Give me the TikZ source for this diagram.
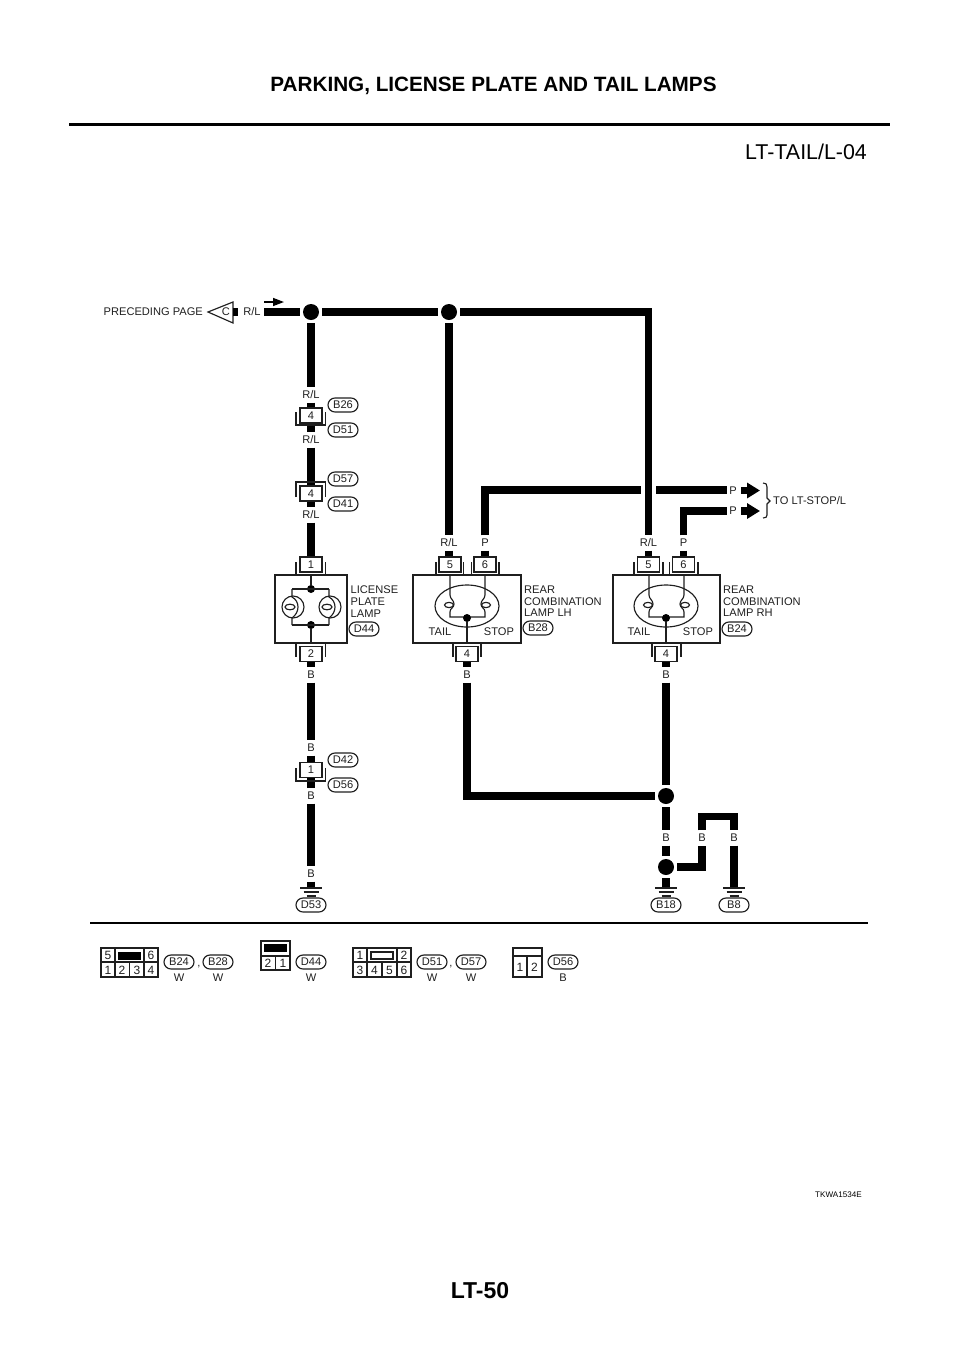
\documentclass[tikz,border=0pt]{standalone}
\usepackage{fontspec}
\setmainfont{Liberation Sans}
\usetikzlibrary{arrows.meta,shapes.misc,calc}
\definecolor{ink}{gray}{0.12}
\newcommand{\lblfont}{\fontsize{11.1}{11.5}\selectfont}
\tikzset{
  x=1pt,y=-1pt,
  wire/.style={line width=7.1pt,line cap=butt,line join=miter,black},
  thin line/.style={line width=1.15pt,ink},
  hair/.style={line width=1.1pt,ink},
  wl/.style={font=\lblfont,text=ink,inner sep=0pt,minimum height=15pt,minimum width=12pt,text height=7.8pt,text depth=0pt},
  pin/.style={draw=ink,line width=1.4pt,fill=white,minimum width=22pt,minimum height=15pt,inner sep=0pt,font=\lblfont,text=ink,text height=7.8pt,text depth=0pt},
  pill/.style={rounded rectangle,draw=ink,line width=1.15pt,fill=white,minimum width=30pt,minimum height=14pt,inner sep=0pt,font=\lblfont,text=ink,text height=7.8pt,text depth=0pt},
  junction/.style={circle,fill=black,minimum size=16pt,inner sep=0pt,outer sep=3pt},
  smalldot/.style={circle,fill=black,minimum size=8pt,inner sep=0pt},
  plain/.style={font=\lblfont,text=ink,inner sep=0pt,text height=7.8pt,text depth=0pt},
  multi/.style={font=\lblfont,text=ink,inner sep=0pt,align=left,anchor=north west},
  lampbox/.style={draw=ink,line width=1.25pt,inner sep=0pt},
  cellnum/.style={font=\fontsize{12}{13}\selectfont,text=ink,inner sep=0pt,text height=8.5pt,text depth=0pt},
}
% bracket open on top / open at bottom, left x, right x, y1 (arms), y2 (closed side)
\newcommand{\brk}[4]{\draw[hair] (#1,#3) -- (#1,#4) -- (#2,#4) -- (#2,#3);}
\newcommand{\arms}[4]{\draw[hair] (#1,#3) -- (#1,#4) (#2,#3) -- (#2,#4);}
\newcommand{\rearlamp}[2]{%
  \begin{scope}[shift={(#1,0)}]
    \draw[thin line] (467,606) ellipse [x radius=32,y radius=21];
    \draw[thin line] (450,575) -- (450,595) .. controls (450,599) and (454,600) .. (454,604)
      .. controls (454,608) and (450,608) .. (450,612) -- (450,617) -- (485,617) -- (485,612)
      .. controls (485,608) and (481,608) .. (481,604) .. controls (481,600) and (485,599) .. (485,595) -- (485,575);
    \draw[thin line] (449,605) ellipse [x radius=4.5,y radius=2.6];
    \draw[thin line] (486,605) ellipse [x radius=4.5,y radius=2.6];
    \node[smalldot] (#2dot) at (467,618) {};
    \draw[thin line] (#2dot) -- (467,643);
    \node[plain] (#2tail) at (440,632) {TAIL};
    \node[plain] (#2stop) at (499,632) {STOP};
  \end{scope}}
\newcommand{\platebulb}[1]{%
  \begin{scope}[shift={(#1,0)}]
    \draw[thin line] (293,607) circle [radius=11];
    \draw[thin line] (292,589) -- (292,597) .. controls (296,599) and (298,603) .. (298,607)
      .. controls (298,611) and (296,615) .. (292,618) -- (292,625);
    \draw[thin line] (290,607) ellipse [x radius=5,y radius=2.8];
  \end{scope}}
\begin{document}
\begin{tikzpicture}
\useasboundingbox (0,0) rectangle (960,1358);
% header
\node[inner sep=0pt,font=\bfseries\fontsize{20.7}{22}\selectfont,text=black] (title) at (493.5,86) {PARKING, LICENSE PLATE AND TAIL LAMPS};
\draw[line width=3pt,black] (69,124) -- (890,124);
\node[inner sep=0pt,font=\fontsize{21.4}{23}\selectfont,text=black] (ref) at (806,152) {LT-TAIL/L-04};
\node[inner sep=0pt,font=\bfseries\fontsize{23}{25}\selectfont,text=black] (page) at (480,1291) {LT-50};
\node[inner sep=0pt,font=\fontsize{8.1}{9}\selectfont,text=black] (code) at (838.5,1195) {TKWA1534E};
\draw[line width=1.5pt,black] (90,923) -- (868,923);

% junctions
\node[junction] (j1) at (311,312) {};
\node[junction] (j2) at (449,312) {};
\node[junction] (j3) at (666,796) {};
\node[junction] (j4) at (666,867) {};

% preceding page
\node[plain,anchor=east] (prec) at (203,312) {PRECEDING PAGE};
\coordinate (trit) at (208,312);
\draw[thin line,fill=white] (trit) -- (233,302) -- (233,323) -- cycle;
\node[plain] (cc) at (226,312) {C};
\coordinate (tris) at (233,312);
\node[wl] (rl0) at (252,312) {R/L};
\coordinate (stubB) at (238,312);
\draw[wire] (tris) -- (stubB);
\coordinate (rl0e) at (264,312);
\draw[wire] (rl0e) -- (j1);
\draw[wire] (j1) -- (j2);
\coordinate (flowa) at (264,302);
\coordinate (flowb) at (284,302);
\draw[line width=1.4pt,-{Triangle[length=11pt,width=8pt]},black] (flowa) -- (flowb);

% left column
\node[wl] (l1) at (311,395) {R/L};
\node[pin] (c4a) at (311,415.5) {4};
\node[wl] (l2) at (311,440) {R/L};
\node[pin] (c4b) at (311,493.5) {4};
\node[wl] (l3) at (311,515) {R/L};
\node[pin] (c1) at (311,564.5) {1};
\node[pin] (c2) at (311,654) {2};
\node[wl] (l4) at (311,675) {B};
\node[wl] (l5) at (311,748) {B};
\node[pin] (c1b) at (311,770) {1};
\node[wl] (l6) at (311,796) {B};
\node[wl] (l7) at (311,874) {B};
\coordinate (g1) at (311,888);
\draw[wire] (j1) -- (l1);
\draw[wire] (l1) -- (c4a);
\draw[wire] (c4a) -- (l2);
\draw[wire] (l2) -- (c4b);
\draw[wire] (c4b) -- (l3);
\draw[wire] (l3) -- (c1);
\draw[wire] (c2) -- (l4);
\draw[wire] (l4) -- (l5);
\draw[wire] (l5) -- (c1b);
\draw[wire] (c1b) -- (l6);
\draw[wire] (l6) -- (l7);
\draw[wire] (l7) -- (g1);
\brk{296}{325.5}{412}{425}
\draw[hair] (296,497) -- (296,482) -- (325.5,482) -- (325.5,497);
\brk{296}{325.5}{768}{781}
\arms{296}{325.5}{562}{575}
\arms{296}{325.5}{643}{657}

% licence plate lamp
\node[lampbox,minimum width=72pt,minimum height=68pt] (lp) at (311,609) {};
\node[smalldot] (lpt) at (311,589) {};
\node[smalldot] (lpb) at (311,625) {};
\draw[thin line] (lp.north) -- (lpt);
\draw[thin line] (lpb) -- (lp.south);
\draw[thin line] (292,589) -- (329,589);
\draw[thin line] (292,625) -- (329,625);
\platebulb{0}
\platebulb{37}
\node[multi] (lptxt) at (350.5,585.5) {LICENSE\\[0.3pt]PLATE\\[0.3pt]LAMP};
\node[pill] (pD44) at (364,629) {D44};

% rear lamp LH
\node[wl] (rl5) at (449,543) {R/L};
\node[wl] (p6) at (485,543) {P};
\node[pin] (c5l) at (450,564.5) {5};
\node[pin] (c6l) at (485,564.5) {6};
\node[pin] (c4l) at (467,654) {4};
\node[wl] (bl) at (467,675) {B};
\node[lampbox,minimum width=108pt,minimum height=68pt] (ll) at (467,609) {};
\rearlamp{0}{lh}
\arms{436}{463.5}{562}{575}
\arms{471.5}{499}{562}{575}
\arms{453}{481}{643}{657}
\node[multi] (lltxt) at (524,585.5) {REAR\\[0.3pt]COMBINATION\\[0.3pt]LAMP LH};
\node[pill] (pB28) at (538,628) {B28};

% rear lamp RH
\node[wl] (rr5) at (648.5,543) {R/L};
\node[wl] (p6r) at (683.5,543) {P};
\node[pin] (c5r) at (648.5,564.5) {5};
\node[pin] (c6r) at (683.5,564.5) {6};
\node[pin] (c4r) at (666,654) {4};
\node[wl] (br) at (666,675) {B};
\node[lampbox,minimum width=107pt,minimum height=68pt] (lr) at (666.5,609) {};
\rearlamp{199}{rh}
\arms{634}{663}{562}{575}
\arms{669.5}{698}{562}{575}
\arms{652}{681}{643}{657}
\node[multi] (lrtxt) at (723,585.5) {REAR\\[0.3pt]COMBINATION\\[0.3pt]LAMP RH};
\node[pill] (pB24) at (737,629) {B24};

% wires of the rear lamps
\draw[wire] (j2) -- (rl5);
\draw[wire] (rl5) -- (c5l.north -| rl5);
\draw[wire] (j2) -| (rr5);
\draw[wire] (rr5) -- (c5r);
\node[wl] (pa) at (733,490.5) {P};
\node[wl] (pb) at (733,511) {P};
\coordinate (gapl) at (641,490);
\coordinate (gapr) at (656,490);
\draw[wire] (p6) |- (gapl);
\draw[wire] (gapr) -- (727,490);
\draw[wire] (p6) -- (c6l);
\draw[wire] (p6r) |- (727,511);
\draw[wire] (p6r) -- (c6r);
\coordinate (aa) at (741,490.5);
\coordinate (ab) at (760,490.5);
\coordinate (ba) at (741,511);
\coordinate (bb) at (760,511);
\draw[wire,-{Triangle[length=13pt,width=15pt]}] (aa) -- (ab);
\draw[wire,-{Triangle[length=13pt,width=15pt]}] (ba) -- (bb);
\draw[hair] (763,483) .. controls (766,483) and (767,484) .. (767,487) -- (767,498) -- (770,501) -- (767,504) -- (767,515) .. controls (767,517) and (766,518) .. (763,518);
\node[plain,anchor=west] (tostop) at (773,501) {TO LT-STOP/L};

\draw[wire] (c4l) -- (bl);
\draw[wire] (bl) |- (j3);
\draw[wire] (c4r) -- (br);
\draw[wire] (br) -- (j3);

% bottom right grounds
\node[wl] (bx1) at (666,838) {B};
\node[wl] (bx2) at (702,838) {B};
\node[wl] (bx3) at (734,838) {B};
\coordinate (g2) at (666,888);
\coordinate (g3) at (734,888);
\draw[wire] (j3) -- (bx1);
\draw[wire] (bx1) -- (j4);
\draw[wire] (j4) -| (bx2);
\draw[wire] (bx2.north) |- (716,816.5) -| (bx3.north);
\draw[wire] (bx3) -- (g3);
\draw[wire] (j4) -- (g2);
\foreach \gx/\gn in {311/g1,666/g2,734/g3}{
  \draw[line width=1.2pt,ink] (\gx-11,888) -- (\gx+11,888);
  \draw[line width=1.2pt,ink] (\gx-7.5,892) -- (\gx+7.5,892);
  \draw[line width=1.2pt,ink] (\gx-4.5,896) -- (\gx+4.5,896);
}
\node[pill] (pD53) at (311,905) {D53};
\node[pill] (pB18) at (666,905) {B18};
\node[pill] (pB8) at (734,905) {B8};

% connector tags
\node[pill] (pB26) at (343,405) {B26};
\node[pill] (pD51) at (343,430) {D51};
\node[pill] (pD57) at (343,479) {D57};
\node[pill] (pD41) at (343,504) {D41};
\node[pill] (pD42) at (343,760) {D42};
\node[pill] (pD56) at (343,785) {D56};

% connector faces
\draw[thin line] (101,948) rectangle (158,977);
\draw[thin line] (101,962) -- (158,962) (115,948) -- (115,977) (144,948) -- (144,977) (129.5,962) -- (129.5,977);
\fill[black] (118,952) rectangle (141,960);
\foreach \t/\tx/\ty/\nn in {5/108/955/a,6/151/955/b,1/108/970/c,2/122/970/d,3/137/970/e,4/151/970/f}
  \node[cellnum] (fa\nn) at (\tx,\ty) {\t};
\node[pill] (fB24) at (179,962) {B24};
\node[plain] (cm1) at (199,963) {,};
\node[pill] (fB28) at (218,962) {B28};
\node[plain] (w1) at (179,978) {W};
\node[plain] (w2) at (218,978) {W};

\draw[thin line] (261,941) rectangle (290,970);
\draw[thin line] (261,956) -- (290,956) (275.5,956) -- (275.5,970);
\fill[black] (264,944) rectangle (287,952);
\node[cellnum] (fd2) at (268,963) {2};
\node[cellnum] (fd1) at (283,963) {1};
\node[pill] (fD44) at (311,962) {D44};
\node[plain] (w3) at (311,978) {W};

\draw[thin line] (353,948) rectangle (411,977);
\draw[thin line] (353,962) -- (411,962) (367,948) -- (367,977) (397,948) -- (397,977) (382,962) -- (382,977);
\draw[line width=1.3pt,ink] (371,952) rectangle (393,959);
\foreach \t/\tx/\ty/\nn in {1/360/955/a,2/404/955/b,3/360/970/c,4/374.5/970/d,5/389.5/970/e,6/404/970/f}
  \node[cellnum] (fe\nn) at (\tx,\ty) {\t};
\node[pill] (fD51) at (432,962) {D51};
\node[plain] (cm2) at (451,963) {,};
\node[pill] (fD57) at (471,962) {D57};
\node[plain] (w4) at (432,978) {W};
\node[plain] (w5) at (471,978) {W};

\draw[thin line] (513,948) rectangle (542,977);
\draw[thin line] (513,956) -- (542,956) (527,956) -- (527,977);
\node[cellnum] (ff1) at (520,967) {1};
\node[cellnum] (ff2) at (534.5,967) {2};
\node[pill] (fD56) at (563,962) {D56};
\node[plain] (b9) at (563,978) {B};
\end{tikzpicture}
\end{document}
